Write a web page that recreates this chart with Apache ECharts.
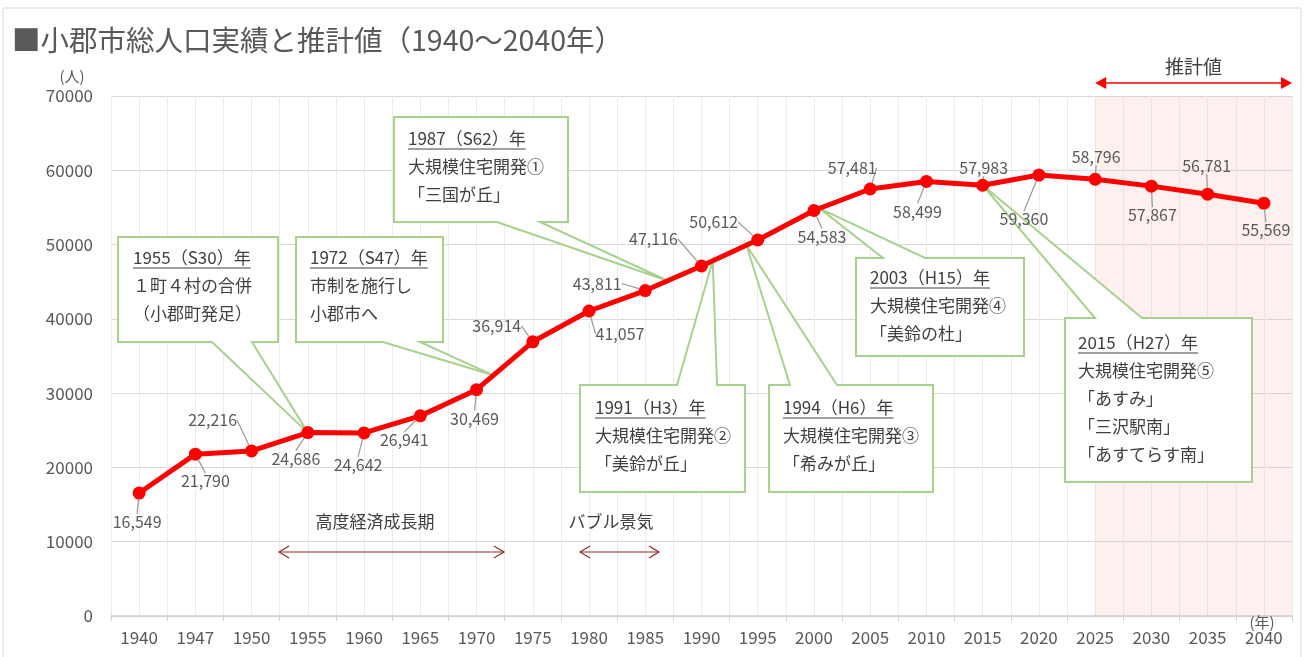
<!DOCTYPE html>
<html><head><meta charset="utf-8">
<script src="https://cdn.jsdelivr.net/npm/echarts@6/dist/echarts.min.js"></script>
<style>html,body{margin:0;padding:0;background:#fff}#c{width:1312px;height:657px}</style>
</head><body><div id="c"></div>
<script>
// ---------- DATA ----------
const years = ['1940','1947','1950','1955','1960','1965','1970','1975','1980','1985','1990','1995','2000','2005','2010','2015','2020','2025','2030','2035','2040'];
const population = [16549,21790,22216,24686,24642,26941,30469,36914,41057,43811,47116,50612,54583,57481,58499,57983,59360,58796,57867,56781,55569];
const yMin = 0, yMax = 70000, yStep = 10000;
const forecastStartYear = '2025';
const titleText = '■小郡市総人口実績と推計値（1940～2040年）';
const yUnit = '(人)';
const xUnit = '(年)';
const forecastText = '推計値';
const calloutTitles = ['1955（S30）年','1972（S47）年','1987（S62）年','1991（H3）年','1994（H6）年','2003（H15）年','2015（H27）年'];
const calloutBodies = [
  ['１町４村の合併','（小郡町発足）'],
  ['市制を施行し','小郡市へ'],
  ['大規模住宅開発①','「三国が丘」'],
  ['大規模住宅開発②','「美鈴が丘」'],
  ['大規模住宅開発③','「希みが丘」'],
  ['大規模住宅開発④','「美鈴の杜」'],
  ['大規模住宅開発⑤','「あすみ」','「三沢駅南」','「あすてらす南」']
];
const eraTexts = ['高度経済成長期','バブル景気'];

// ---------- LAYOUT / STYLE ----------
const FONT = '"Noto Sans CJK JP","Noto Sans",sans-serif';
const GRID = {left:111, right:20, top:96, bottom:41};
// label offset (dx,dy) from point centre
const labelOffsets = [[-2,29],[10,27],[-39,-31],[-12,26],[-6,32],[-16,24],[-2,29],[-36,-16],[31,23],[-48,-7],[-48,-27],[-44,-18],[8,26],[-18,-21],[-9,30],[1,-17],[-15,44],[1,-22],[1,29],[-1,-28],[2,27]];
// callout boxes: box [x0,y0,x1,y1], side of pointer, pointer base [b1,b2], tip at (index + frac), text origin
const calloutLayout = [
  {box:[118,237,278,342], side:'bottom', base:[212,252], tip:[3,0],   text:[133,258]},
  {box:[296,237,443,342], side:'bottom', base:[383,420], tip:[6,0.3], text:[310,258]},
  {box:[394,117,568,222], side:'bottom', base:[497,540], tip:[9,0.4], text:[408,139]},
  {box:[580,385,745,492], side:'top',    base:[677,717], tip:[10,0.2],text:[595,408]},
  {box:[769,385,933,492], side:'top',    base:[790,837], tip:[10,0.8],text:[783,408]},
  {box:[856,258,1024,356],side:'top',    base:[883,925], tip:[12,0.1],text:[870,278]},
  {box:[1065,318,1252,482],side:'top',   base:[1095,1142],tip:[15,0], text:[1078,343]}
];
const eraLayout = [
  {text:[375,522], arrow:[279,504,552]},
  {text:[611,522], arrow:[580,659,552]}
];

const chart = echarts.init(document.getElementById('c'), null, {renderer:'canvas'});
const nSub = years.length * 2;
const forecastStart = years.indexOf(forecastStartYear) * 2 + 1;

chart.setOption({
  animation:false,
  backgroundColor:'#fff',
  textStyle:{fontFamily:FONT},
  grid:{left:GRID.left, right:GRID.right, top:GRID.top, bottom:GRID.bottom, containLabel:false},
  xAxis:[
    {type:'category', data:years, boundaryGap:true,
     axisLine:{lineStyle:{color:'#d0d0d0', width:1.5}},
     axisTick:{show:true, length:5, lineStyle:{color:'#d0d0d0'}},
     axisLabel:{color:'#595959', fontSize:17, margin:13, fontFamily:FONT},
     splitLine:{show:false}},
    {type:'value', min:0, max:nSub, interval:1, show:true, position:'bottom',
     axisLine:{show:false}, axisTick:{show:false}, axisLabel:{show:false},
     splitLine:{show:true, lineStyle:{color:'#ebebeb', width:1}}}
  ],
  yAxis:{type:'value', min:yMin, max:yMax, interval:yStep,
     axisLine:{show:false}, axisTick:{show:false},
     axisLabel:{color:'#595959', fontSize:17, margin:18, fontFamily:FONT, formatter:v => String(v)},
     splitLine:{lineStyle:{color:'#d9d9d9', width:1}}},
  series:[
    {type:'line', xAxisIndex:1, data:[[forecastStart, yMin]], symbol:'none', lineStyle:{opacity:0}, silent:true, z:1,
     markArea:{silent:true, itemStyle:{color:'rgba(245,180,175,0.2)'}, data:[[{xAxis:forecastStart},{xAxis:nSub}]]}},
    {type:'line', xAxisIndex:0, data:population, z:5,
     symbol:'circle', symbolSize:13,
     lineStyle:{color:'#ff0000', width:5},
     itemStyle:{color:'#ff0000'},
     label:{show:true, fontSize:16, color:'#595959', fontFamily:FONT,
       formatter:p => p.value.toLocaleString('en-US')},
     labelLine:{show:true, length2:0, lineStyle:{color:'#999999', width:1.2}},
     labelLayout:function(p){
       const o = labelOffsets[p.dataIndex];
       return {x:p.rect.x + p.rect.width/2 + o[0], y:p.rect.y + p.rect.height/2 + o[1], align:'center', verticalAlign:'middle'};
     }}
  ]
});

// ---------- annotations ----------
const ctx = document.createElement('canvas').getContext('2d');
function textW(t, size){ ctx.font = size + 'px ' + FONT; return ctx.measureText(t).width; }
const px = (i, v) => chart.convertToPixel({xAxisIndex:0, yAxisIndex:0}, [i, v]);
const g = [];
const GREEN = '#a9d18e', TXT = '#404040', CFS = 17, LH = 28;

// frame
g.push({type:'rect', shape:{x:3, y:8, width:1298, height:660}, style:{fill:null, stroke:'#d9d9d9', lineWidth:1}, z:0, silent:true});
// title
g.push({type:'text', x:12, y:40, style:{text:titleText, font:'28.5px ' + FONT, fill:'#595959', textVerticalAlign:'middle'}, z:10});
g.push({type:'text', x:72, y:76, style:{text:yUnit, font:'15px ' + FONT, fill:'#595959', textAlign:'center', textVerticalAlign:'middle'}, z:10});
g.push({type:'text', x:1262, y:622, style:{text:xUnit, font:'15px ' + FONT, fill:'#595959', textAlign:'center', textVerticalAlign:'middle'}, z:10});

// forecast arrow
const fx0 = chart.convertToPixel({xAxisIndex:1}, forecastStart);
const fx1 = chart.convertToPixel({xAxisIndex:1}, nSub);
const fy = 83;
g.push({type:'line', shape:{x1:fx0+8, y1:fy, x2:fx1-8, y2:fy}, style:{stroke:'#ff0000', lineWidth:1.5}, z:10});
g.push({type:'polygon', shape:{points:[[fx0,fy],[fx0+11,fy-6],[fx0+11,fy+6]]}, style:{fill:'#ff0000'}, z:10});
g.push({type:'polygon', shape:{points:[[fx1,fy],[fx1-11,fy-6],[fx1-11,fy+6]]}, style:{fill:'#ff0000'}, z:10});
g.push({type:'text', x:(fx0+fx1)/2, y:67, style:{text:forecastText, font:'19px ' + FONT, fill:'#404040', textAlign:'center', textVerticalAlign:'middle'}, z:10});

// callouts
calloutLayout.forEach((c, k) => {
  const [i, f] = c.tip;
  const p0 = px(i, population[i]);
  const p1 = i + 1 < population.length ? px(i + 1, population[i + 1]) : p0;
  const tip = [p0[0] + f*(p1[0]-p0[0]), p0[1] + f*(p1[1]-p0[1])];
  const [x0,y0,x1,y1] = c.box, [b1,b2] = c.base;
  const pts = c.side === 'bottom'
    ? [[x0,y0],[x1,y0],[x1,y1],[b2,y1],tip,[b1,y1],[x0,y1]]
    : [[x0,y0],[b1,y0],tip,[b2,y0],[x1,y0],[x1,y1],[x0,y1]];
  g.push({type:'polygon', shape:{points:pts}, style:{fill:'#fff', stroke:GREEN, lineWidth:2}, z:3, silent:true});
  const tt = calloutTitles[k];
  g.push({type:'text', x:c.text[0], y:c.text[1], style:{text:tt, font:CFS + 'px ' + FONT, fill:TXT, textVerticalAlign:'middle'}, z:4});
  const w = textW(tt, CFS);
  g.push({type:'line', shape:{x1:c.text[0], y1:c.text[1]+10, x2:c.text[0]+w, y2:c.text[1]+10}, style:{stroke:TXT, lineWidth:1}, z:4});
  calloutBodies[k].forEach((ln, j) => {
    g.push({type:'text', x:c.text[0], y:c.text[1] + LH*(j+1), style:{text:ln, font:CFS + 'px ' + FONT, fill:TXT, textVerticalAlign:'middle'}, z:4});
  });
});

// era arrows
const DR = '#8c2d2d';
eraLayout.forEach((e, k) => {
  g.push({type:'text', x:e.text[0], y:e.text[1], style:{text:eraTexts[k], font:'17px ' + FONT, fill:'#404040', textAlign:'center', textVerticalAlign:'middle'}, z:10});
  const [a, b, y] = e.arrow;
  g.push({type:'line', shape:{x1:a, y1:y, x2:b, y2:y}, style:{stroke:DR, lineWidth:1.2}, z:10});
  g.push({type:'polyline', shape:{points:[[a+10,y-6],[a,y],[a+10,y+6]]}, style:{stroke:DR, lineWidth:1.2, fill:null}, z:10});
  g.push({type:'polyline', shape:{points:[[b-10,y-6],[b,y],[b-10,y+6]]}, style:{stroke:DR, lineWidth:1.2, fill:null}, z:10});
});

chart.setOption({graphic:{elements:g}});
</script></body></html>
